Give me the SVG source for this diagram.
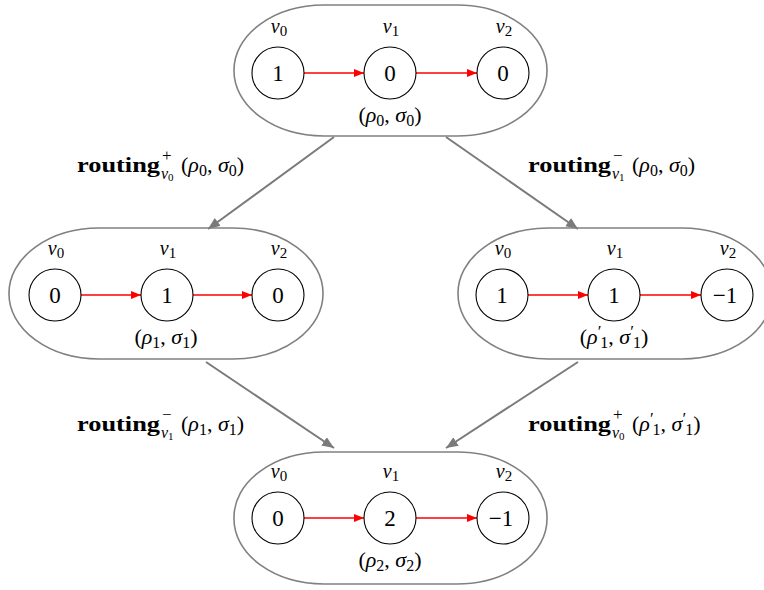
<svg xmlns="http://www.w3.org/2000/svg" width="764" height="590" viewBox="0 0 764 590">
<style>
text{font-family:"Liberation Serif","DejaVu Serif",serif;fill:#000}
.blob{fill:none;stroke:#808080;stroke-width:1.6}
.nd{fill:#fff;stroke:#000;stroke-width:1.1}
.num{font-size:23px;text-anchor:middle}
.vl{font-size:20px;text-anchor:middle}
.it{font-style:italic}
.st{font-size:22px;text-anchor:middle}
.mt{font-size:22px}
.rt{font-size:22px;font-weight:bold}
.sm{font-size:15px}
.sp{font-size:17px}
.ss{font-size:16px}
.pr{font-size:17px}
.red{stroke:#ff0000;stroke-width:1.6;fill:none;marker-end:url(#ra)}
.gr{stroke:#7a7a7a;stroke-width:2;fill:none;marker-end:url(#ga)}
</style>
<defs>
<marker id="ra" markerUnits="userSpaceOnUse" markerWidth="12" markerHeight="10" refX="10" refY="4" orient="auto"><path d="M0,0 L10,4 L0,8 Z" fill="#ff0000"/></marker>
<marker id="ga" markerUnits="userSpaceOnUse" markerWidth="14" markerHeight="12" refX="12" refY="5" orient="auto"><path d="M0,0 L12,5 L0,10 Z" fill="#7a7a7a"/></marker>
</defs>

<g id="connectors">
<line class="gr" x1="334" y1="137" x2="208" y2="229"/>
<line class="gr" x1="446" y1="137" x2="578" y2="229"/>
<line class="gr" x1="206" y1="362" x2="334" y2="448"/>
<line class="gr" x1="578" y1="362" x2="446" y2="448"/>
</g>

<g id="state0">
<rect class="blob" x="234" y="5" width="313" height="131" rx="90" ry="65"/>
<line class="red" x1="304" y1="73" x2="364" y2="73"/>
<line class="red" x1="416" y1="73" x2="477" y2="73"/>
<circle class="nd" cx="278" cy="73" r="26"/><text class="num" x="278" y="81">1</text>
<circle class="nd" cx="390" cy="73" r="26"/><text class="num" x="390" y="81">0</text>
<circle class="nd" cx="503" cy="73" r="26"/><text class="num" x="503" y="81">0</text>
<text class="vl" x="279" y="33"><tspan class="it">v</tspan><tspan class="sm" dy="3">0</tspan></text>
<text class="vl" x="391" y="33"><tspan class="it">v</tspan><tspan class="sm" dy="3">1</tspan></text>
<text class="vl" x="504" y="33"><tspan class="it">v</tspan><tspan class="sm" dy="3">2</tspan></text>
<text class="st" x="390" y="122">(<tspan class="it">ρ</tspan><tspan class="ss" dy="4">0</tspan><tspan dy="-4">, </tspan><tspan class="it">σ</tspan><tspan class="ss" dy="4">0</tspan><tspan dy="-4">)</tspan></text>
</g>

<g id="state1">
<rect class="blob" x="9" y="228" width="314" height="131" rx="90" ry="65"/>
<line class="red" x1="81" y1="295" x2="141" y2="295"/>
<line class="red" x1="193" y1="295" x2="252" y2="295"/>
<circle class="nd" cx="55" cy="295" r="26"/><text class="num" x="55" y="303">0</text>
<circle class="nd" cx="167" cy="295" r="26"/><text class="num" x="167" y="303">1</text>
<circle class="nd" cx="278" cy="295" r="26"/><text class="num" x="278" y="303">0</text>
<text class="vl" x="56" y="255"><tspan class="it">v</tspan><tspan class="sm" dy="3">0</tspan></text>
<text class="vl" x="168" y="255"><tspan class="it">v</tspan><tspan class="sm" dy="3">1</tspan></text>
<text class="vl" x="279" y="255"><tspan class="it">v</tspan><tspan class="sm" dy="3">2</tspan></text>
<text class="st" x="166" y="344">(<tspan class="it">ρ</tspan><tspan class="ss" dy="4">1</tspan><tspan dy="-4">, </tspan><tspan class="it">σ</tspan><tspan class="ss" dy="4">1</tspan><tspan dy="-4">)</tspan></text>
</g>

<g id="state1p">
<rect class="blob" x="458" y="228" width="314" height="131" rx="90" ry="65"/>
<line class="red" x1="528" y1="295" x2="588" y2="295"/>
<line class="red" x1="640" y1="295" x2="701" y2="295"/>
<circle class="nd" cx="502" cy="295" r="26"/><text class="num" x="502" y="303">1</text>
<circle class="nd" cx="614" cy="295" r="26"/><text class="num" x="614" y="303">1</text>
<circle class="nd" cx="727" cy="295" r="26"/><text class="num" x="725" y="303">−1</text>
<text class="vl" x="503" y="255"><tspan class="it">v</tspan><tspan class="sm" dy="3">0</tspan></text>
<text class="vl" x="615" y="255"><tspan class="it">v</tspan><tspan class="sm" dy="3">1</tspan></text>
<text class="vl" x="728" y="255"><tspan class="it">v</tspan><tspan class="sm" dy="3">2</tspan></text>
<text class="st" x="614" y="344">(<tspan class="it">ρ</tspan><tspan class="pr" dy="-7">′</tspan><tspan class="ss" dx="-1" dy="11">1</tspan><tspan dy="-4">, </tspan><tspan class="it">σ</tspan><tspan class="pr" dy="-7">′</tspan><tspan class="ss" dx="-1" dy="11">1</tspan><tspan dy="-4">)</tspan></text>
</g>

<g id="state2">
<rect class="blob" x="234" y="452" width="313" height="132" rx="90" ry="65"/>
<line class="red" x1="304" y1="518" x2="364" y2="518"/>
<line class="red" x1="416" y1="518" x2="477" y2="518"/>
<circle class="nd" cx="278" cy="518" r="26"/><text class="num" x="278" y="526">0</text>
<circle class="nd" cx="390" cy="518" r="26"/><text class="num" x="390" y="526">2</text>
<circle class="nd" cx="503" cy="518" r="26"/><text class="num" x="501" y="526">−1</text>
<text class="vl" x="279" y="478"><tspan class="it">v</tspan><tspan class="sm" dy="3">0</tspan></text>
<text class="vl" x="391" y="478"><tspan class="it">v</tspan><tspan class="sm" dy="3">1</tspan></text>
<text class="vl" x="504" y="478"><tspan class="it">v</tspan><tspan class="sm" dy="3">2</tspan></text>
<text class="st" x="390" y="567">(<tspan class="it">ρ</tspan><tspan class="ss" dy="4">2</tspan><tspan dy="-4">, </tspan><tspan class="it">σ</tspan><tspan class="ss" dy="4">2</tspan><tspan dy="-4">)</tspan></text>
</g>

<g id="labels">
<text class="rt" x="77" y="172" textLength="83" lengthAdjust="spacingAndGlyphs">routing</text>
<text class="sp" x="162" y="161">+</text>
<text class="ss" x="161" y="179"><tspan class="it">v</tspan><tspan font-size="11" dy="2">0</tspan></text>
<text class="mt" x="181" y="172">(<tspan class="it">ρ</tspan><tspan class="ss" dy="4">0</tspan><tspan dy="-4">, </tspan><tspan class="it">σ</tspan><tspan class="ss" dy="4">0</tspan><tspan dy="-4">)</tspan></text>

<text class="rt" x="528" y="172" textLength="83" lengthAdjust="spacingAndGlyphs">routing</text>
<text class="sp" x="613" y="161">−</text>
<text class="ss" x="612" y="179"><tspan class="it">v</tspan><tspan font-size="11" dy="2">1</tspan></text>
<text class="mt" x="632" y="172">(<tspan class="it">ρ</tspan><tspan class="ss" dy="4">0</tspan><tspan dy="-4">, </tspan><tspan class="it">σ</tspan><tspan class="ss" dy="4">0</tspan><tspan dy="-4">)</tspan></text>

<text class="rt" x="77" y="431" textLength="83" lengthAdjust="spacingAndGlyphs">routing</text>
<text class="sp" x="162" y="420">−</text>
<text class="ss" x="161" y="438"><tspan class="it">v</tspan><tspan font-size="11" dy="2">1</tspan></text>
<text class="mt" x="181" y="431">(<tspan class="it">ρ</tspan><tspan class="ss" dy="4">1</tspan><tspan dy="-4">, </tspan><tspan class="it">σ</tspan><tspan class="ss" dy="4">1</tspan><tspan dy="-4">)</tspan></text>

<text class="rt" x="528" y="431" textLength="83" lengthAdjust="spacingAndGlyphs">routing</text>
<text class="sp" x="613" y="420">+</text>
<text class="ss" x="612" y="438"><tspan class="it">v</tspan><tspan font-size="11" dy="2">0</tspan></text>
<text class="mt" x="632" y="431">(<tspan class="it">ρ</tspan><tspan class="pr" dy="-7">′</tspan><tspan class="ss" dx="-1" dy="11">1</tspan><tspan dy="-4">, </tspan><tspan class="it">σ</tspan><tspan class="pr" dy="-7">′</tspan><tspan class="ss" dx="-1" dy="11">1</tspan><tspan dy="-4">)</tspan></text>
</g>
</svg>
